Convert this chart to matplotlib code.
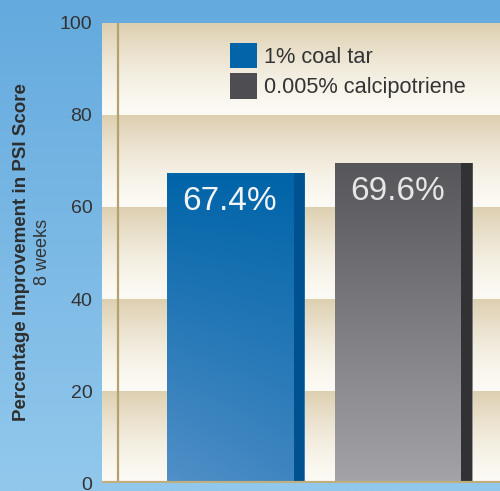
import numpy as np
import matplotlib.pyplot as plt
from matplotlib.patches import Rectangle, Patch
from matplotlib.colors import to_rgb

plt.rcParams['font.family'] = ['Liberation Sans', 'DejaVu Sans']

# data
treatments = ["1% coal tar", "0.005% calcipotriene"]
improvement = [67.4, 69.6]
value_labels = ["67.4%", "69.6%"]
yticks = [0, 20, 40, 60, 80, 100]

main_colors = [("#0064a8", "#5290c8"), ("#56565a", "#a4a4a8")]
edge_colors = ["#00518f", "#323234"]
legend_colors = ["#0464aa", "#4e4e52"]


def grad_img(c1, c2, n=200, diag=0.0):
    # vertical gradient from c1 (top) to c2 (bottom), optional diagonal tilt
    c1, c2 = np.array(to_rgb(c1)), np.array(to_rgb(c2))
    v = np.linspace(0, 1, n)[:, None]
    u = np.linspace(0, 1, 60)[None, :]
    t = np.clip(v * (1 - diag) + (1 - u) * diag * v, 0, 1)
    return c1 + (c2 - c1) * t[..., None]


fig = plt.figure(figsize=(5.0, 4.91), dpi=100)

# light blue page background
bg = fig.add_axes([0, 0, 1, 1], zorder=-5)
bg.axis('off')
bg.imshow(grad_img("#64aade", "#92c8ec"), aspect='auto', extent=[0, 1, 0, 1])
bg.set_xlim(0, 1)
bg.set_ylim(0, 1)

ax = fig.add_axes([102 / 500, (491 - 483) / 491, 398 / 500, 460 / 491])
xmin, xmax = -0.795, 1.574
ax.set_xlim(xmin, xmax)
ax.set_ylim(0, 100)

# banded background: tan at the top of each 20-unit band fading to white
yy = np.linspace(100, 0, 460)
t = ((yy - 1e-9) % 20) / 20
f = t ** 1.5
tan = np.array(to_rgb("#ddcfb0"))
white = np.array(to_rgb("#fcfaf4"))
band = white + (tan - white) * f[:, None]
band = np.repeat(band[:, None, :], 4, axis=1)
ax.imshow(band, aspect='auto', extent=[xmin, xmax, 0, 100], zorder=0)

ax.axvline(-0.699, color="#b3a26e", lw=1.6, zorder=1)
ax.axhline(0, color="#c0ae7c", lw=3, zorder=5)

bw = 0.82
strip = [0.06, 0.066]
for i, v in enumerate(improvement):
    x0 = i - bw / 2
    c1, c2 = main_colors[i]
    im = ax.imshow(grad_img(c1, c2, diag=0.25 if i == 0 else 0.0), aspect='auto',
                   extent=[x0, x0 + bw, 0, v], zorder=3)
    r = Rectangle((x0, 0), bw, v, transform=ax.transData)
    im.set_clip_path(r)
    ax.add_patch(Rectangle((x0 + bw - strip[i], 0), strip[i], v,
                           facecolor=edge_colors[i], edgecolor='none', zorder=4))
    ax.text(i - 0.035, v - 6.3, value_labels[i], color="#f2f4f6" if i == 0 else "#e6e6e6",
            fontsize=24, ha='center', va='center', zorder=6)

ax.set_yticks(yticks)
ax.set_xticks([])
ax.tick_params(axis='y', length=0, pad=7, labelsize=14, labelcolor="#333333")
for s in ax.spines.values():
    s.set_visible(False)

handles = [Patch(facecolor=c, edgecolor='none') for c in legend_colors]
ax.legend(handles, treatments, loc='upper left',
          bbox_to_anchor=((230 - 102) / 398, (483 - 43) / 460),
          frameon=False, fontsize=15.7, handlelength=1.24, handleheight=1.42,
          handletextpad=0.32, labelspacing=0.22, borderpad=0, borderaxespad=0,
          labelcolor="#333333")

fig.text(21.5 / 500, 1 - 252 / 491, "Percentage Improvement in PSI Score",
         rotation=90, ha='center', va='center', fontsize=13.5, fontweight='bold',
         color="#2e2e2e")
fig.text(42.5 / 500, 1 - 252 / 491, "8 weeks", rotation=90, ha='center',
         va='center', fontsize=13, color="#333333")

fig.savefig("out.png", dpi=100)
